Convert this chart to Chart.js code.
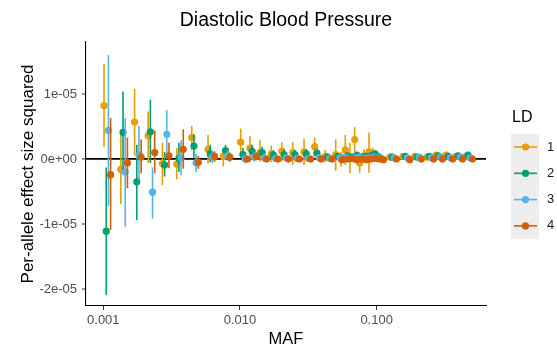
<!DOCTYPE html>
<html>
<head>
<meta charset="utf-8">
<script src="https://cdn.jsdelivr.net/npm/chart.js@4.4.1/dist/chart.umd.min.js"></script>
<style>
  html, body { margin: 0; padding: 0; background: #fff; }
  #wrap { width: 557px; height: 349px; }
</style>
</head>
<body>
<div id="wrap"><canvas id="chart" width="557" height="349"></canvas></div>
<script>
// MAF bins
const maf = [0.00107, 0.00142, 0.00179, 0.00225, 0.00286, 0.00364, 0.00469, 0.00617, 0.00798,
  0.0107, 0.0125, 0.0148, 0.0179, 0.0214, 0.0257, 0.0311, 0.0372, 0.0445,
  0.0530, 0.0579, 0.0623, 0.0674, 0.0730, 0.0794, 0.0854, 0.0929, 0.0993, 0.106,
  0.132, 0.165, 0.201, 0.247, 0.287, 0.340, 0.402, 0.475]

// effect size squared, in units of 1e-05
const ld1Effect = [0.82, -0.16, 0.57, 0.36, -0.07, -0.08, 0.33, 0.15, 0.04, 0.26, 0.17, 0.10, 0.08, 0.12, 0.10, 0.11, 0.19, 0.04,
  0.07, 0.00, 0.14, 0.02, 0.30, -0.06, 0.05, 0.11, 0.08, 0.04, 0.03, 0.04, 0.04, 0.03, 0.06, 0.06, 0.04, 0.04]
const ld1Low = [0.19, -0.69, 0.06, -0.06, -0.40, -0.31, 0.14, -0.07, -0.11, 0.04, -0.04, -0.04, -0.05, -0.04, -0.09, -0.09, 0.04, -0.05,
  -0.18, -0.12, -0.09, -0.22, 0.11, -0.21, -0.05, -0.21, -0.02, -0.03, -0.02, -0.01, -0.01, -0.01, 0.02, 0.02, 0.00, 0.00]
const ld1High = [1.46, 0.37, 1.08, 0.73, 0.25, 0.17, 0.51, 0.37, 0.16, 0.47, 0.35, 0.29, 0.21, 0.26, 0.26, 0.31, 0.33, 0.14,
  0.30, 0.11, 0.37, 0.25, 0.49, 0.06, 0.15, 0.41, 0.17, 0.10, 0.08, 0.09, 0.09, 0.07, 0.10, 0.10, 0.08, 0.07]

const ld2Effect = [-1.11, 0.41, -0.35, 0.42, -0.09, 0.01, 0.20, 0.08, 0.13, 0.07, 0.12, 0.10, 0.06, 0.07, 0.07, 0.08, 0.09, 0.03,
  0.04, 0.02, 0.05, 0.03, 0.06, 0.03, 0.04, 0.05, 0.08, 0.03, 0.03, 0.04, 0.03, 0.04, 0.05, 0.04, 0.05, 0.06]
const ld2Low = [-2.09, -0.20, -0.94, -0.06, -0.27, -0.20, 0.02, -0.05, 0.03, -0.03, 0.02, 0.01, -0.02, -0.01, 0.00, 0.01, 0.02, -0.02,
  -0.01, -0.03, 0.00, -0.02, 0.01, -0.02, -0.01, 0.00, 0.03, -0.02, 0.00, 0.01, 0.00, 0.01, 0.02, 0.01, 0.02, 0.03]
const ld2High = [-0.13, 1.04, 0.22, 0.91, 0.11, 0.25, 0.38, 0.22, 0.22, 0.17, 0.22, 0.19, 0.14, 0.15, 0.14, 0.15, 0.16, 0.08,
  0.09, 0.07, 0.10, 0.08, 0.11, 0.08, 0.09, 0.10, 0.13, 0.08, 0.06, 0.07, 0.06, 0.07, 0.08, 0.07, 0.08, 0.09]

const ld3Effect = [0.44, -0.20, 0.06, -0.51, 0.38, 0.02, -0.06, 0.03, 0.05, 0.00, 0.03, 0.02, 0.01, 0.02, 0.01, 0.01, 0.02, 0.01,
  0.02, 0.03, 0.01, 0.02, 0.03, 0.01, 0.02, 0.03, 0.02, 0.01, 0.02, 0.02, 0.03, 0.02, 0.03, 0.02, 0.03, 0.02]
const ld3Low = [-0.72, -1.04, -0.32, -0.92, 0.01, -0.25, -0.20, -0.06, -0.03, -0.07, -0.04, -0.04, -0.04, -0.03, -0.04, -0.04, -0.03, -0.04,
  -0.02, -0.01, -0.03, -0.02, -0.01, -0.03, -0.02, -0.01, -0.02, -0.03, 0.00, 0.00, 0.01, 0.00, 0.01, 0.00, 0.01, 0.00]
const ld3High = [1.60, 0.63, 0.51, -0.13, 0.75, 0.29, 0.08, 0.12, 0.13, 0.07, 0.10, 0.08, 0.06, 0.07, 0.06, 0.06, 0.07, 0.06,
  0.06, 0.07, 0.05, 0.06, 0.07, 0.05, 0.06, 0.07, 0.06, 0.05, 0.04, 0.04, 0.05, 0.04, 0.05, 0.04, 0.05, 0.04]

const ld4Effect = [-0.24, -0.06, 0.03, 0.10, 0.05, 0.15, -0.05, 0.04, 0.03, 0.00, 0.04, 0.00, 0.00, 0.00, 0.00, 0.00, 0.00, 0.00,
  -0.01, 0.00, 0.01, -0.01, 0.00, -0.01, 0.00, 0.01, 0.00, -0.01, 0.00, -0.01, 0.00, 0.00, 0.00, 0.00, 0.00, 0.00]
const ld4Low = [-1.09, -0.45, -0.22, -0.22, -0.14, -0.15, -0.15, -0.04, -0.04, -0.05, -0.02, -0.04, -0.03, -0.03, -0.03, -0.03, -0.03, -0.03,
  -0.04, -0.03, -0.02, -0.04, -0.03, -0.04, -0.03, -0.02, -0.03, -0.04, -0.02, -0.03, -0.02, -0.02, -0.02, -0.02, -0.02, -0.02]
const ld4High = [0.63, 0.33, 0.30, 0.44, 0.25, 0.46, 0.05, 0.12, 0.10, 0.05, 0.10, 0.04, 0.03, 0.03, 0.03, 0.03, 0.03, 0.03,
  0.02, 0.03, 0.04, 0.02, 0.03, 0.02, 0.03, 0.04, 0.03, 0.02, 0.02, 0.01, 0.02, 0.02, 0.02, 0.02, 0.02, 0.02]

const ldLabels = ['1', '2', '3', '4']
const ldColors = ['#E69F00', '#009E73', '#56B4E9', '#D55E00']

const yTicks = [-2e-5, -1e-5, 0, 1e-5]
const yTickLabels = ['-2e-05', '-1e-05', '0e+00', '1e-05']
const xTicks = [0.001, 0.01, 0.1]
const xTickLabels = ['0.001', '0.010', '0.100']

const UNIT = 1e-5
const DODGE = 0.016   // decades between neighbouring LD groups
const FONT = '"Liberation Sans", Arial, Helvetica, sans-serif'

const series = [
  { effect: ld1Effect, low: ld1Low, high: ld1High },
  { effect: ld2Effect, low: ld2Low, high: ld2High },
  { effect: ld3Effect, low: ld3Low, high: ld3High },
  { effect: ld4Effect, low: ld4Low, high: ld4High },
]

const datasets = []
series.forEach((s, i) => {
  const shift = Math.pow(10, (i - 1.5) * DODGE)
  const ranges = []
  maf.forEach((m, j) => {
    const x = m * shift
    ranges.push({ x, y: s.low[j] * UNIT }, { x, y: s.high[j] * UNIT }, { x, y: null })
  })
  datasets.push({
    label: 'range ' + ldLabels[i],
    data: ranges,
    showLine: true,
    spanGaps: false,
    borderColor: ldColors[i],
    borderWidth: 1.6,
    pointRadius: 0,
    order: 20 - i * 2,
  })
  datasets.push({
    label: ldLabels[i],
    data: maf.map((m, j) => ({ x: m * shift, y: s.effect[j] * UNIT })),
    showLine: false,
    pointRadius: 3.6,
    pointBackgroundColor: ldColors[i],
    pointBorderWidth: 0,
    order: 19 - i * 2,
  })
})

const titlePlugin = {
  id: 'panelTitle',
  afterDraw(chart) {
    const { ctx, chartArea } = chart
    ctx.save()
    ctx.font = '19.5px ' + FONT
    ctx.fillStyle = '#000'
    ctx.textAlign = 'center'
    ctx.textBaseline = 'middle'
    ctx.fillText('Diastolic Blood Pressure', (chartArea.left + chartArea.right) / 2, 21)
    ctx.restore()
  }
}

const legendPlugin = {
  id: 'ldLegend',
  afterDraw(chart) {
    const ctx = chart.ctx
    ctx.save()
    ctx.fillStyle = '#000'
    ctx.font = '16px ' + FONT
    ctx.textBaseline = 'middle'
    ctx.textAlign = 'left'
    ctx.fillText('LD', 512, 118)
    ldLabels.forEach((lab, i) => {
      const cy = 147 + i * 26.3
      ctx.fillStyle = '#EDEDED'
      ctx.fillRect(511, cy - 13.2, 28, 26.4)
      ctx.strokeStyle = ldColors[i]
      ctx.lineWidth = 1.6
      ctx.beginPath()
      ctx.moveTo(514, cy)
      ctx.lineTo(537, cy)
      ctx.stroke()
      ctx.fillStyle = ldColors[i]
      ctx.beginPath()
      ctx.arc(525.5, cy, 3.6, 0, Math.PI * 2)
      ctx.fill()
      ctx.fillStyle = '#1A1A1A'
      ctx.font = '13px ' + FONT
      ctx.fillText(lab, 547, cy)
    })
    ctx.restore()
  }
}

new Chart('chart', {
  type: 'scatter',
  data: { datasets },
  options: {
    responsive: false,
    animation: false,
    devicePixelRatio: 1,
    layout: { padding: { left: 0, right: 71, top: 42, bottom: 0 } },
    plugins: {
      legend: { display: false },
      title: { display: false },
      tooltip: { enabled: false },
    },
    scales: {
      x: {
        type: 'logarithmic',
        min: 0.000747,
        max: 0.631,
        afterBuildTicks: axis => { axis.ticks = xTicks.map(v => ({ value: v })) },
        afterFit: axis => { axis.height = 43 },
        ticks: {
          autoSkip: false,
          maxRotation: 0,
          padding: 3,
          color: '#4D4D4D',
          font: { family: FONT, size: 13 },
          callback: (v) => xTickLabels[xTicks.findIndex(t => Math.abs(t - v) < t * 1e-6)] || '',
        },
        grid: { drawOnChartArea: false, tickLength: 4, tickColor: '#333333', tickWidth: 1 },
        border: { color: '#000', width: 1.1 },
        title: { display: true, text: 'MAF', color: '#000', font: { family: FONT, size: 16.5 }, padding: 0 },
      },
      y: {
        min: -2.26e-5,
        max: 1.8e-5,
        z: 1,
        afterBuildTicks: axis => { axis.ticks = yTicks.map(v => ({ value: v })) },
        afterFit: axis => { axis.width = 86 },
        ticks: {
          padding: 5,
          color: '#4D4D4D',
          font: { family: FONT, size: 13 },
          callback: (v) => yTickLabels[yTicks.indexOf(v)],
        },
        grid: {
          drawOnChartArea: true,
          color: c => (c.tick && c.tick.value === 0 ? '#000' : 'rgba(0,0,0,0)'),
          lineWidth: c => (c.tick && c.tick.value === 0 ? 1.7 : 0),
          tickLength: 4,
          tickColor: '#333333',
          tickWidth: 1,
        },
        border: { color: '#000', width: 1.1 },
        title: {
          display: true, text: 'Per-allele effect size squared', color: '#000',
          font: { family: FONT, size: 17 }, padding: { top: 17.8 },
        },
      },
    },
  },
  plugins: [titlePlugin, legendPlugin],
})
</script>
</body>
</html>
